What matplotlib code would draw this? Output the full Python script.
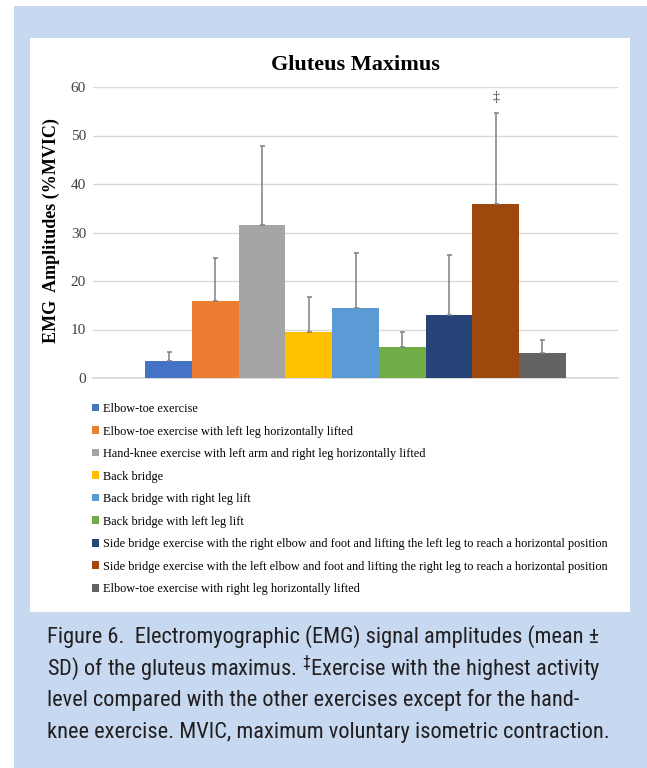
# Gluteus maximus EMG chart (figure 6 style)

import numpy as np
import matplotlib.pyplot as plt
from matplotlib.patches import Rectangle

exercises = [
    'Elbow-toe exercise',
    'Elbow-toe exercise with left leg horizontally lifted',
    'Hand-knee exercise with left arm and right leg horizontally lifted',
    'Back bridge',
    'Back bridge with right leg lift',
    'Back bridge with left leg lift',
    'Side bridge exercise with the right elbow and foot and lifting the left leg to reach a horizontal position',
    'Side bridge exercise with the left elbow and foot and lifting the right leg to reach a horizontal position',
    'Elbow-toe exercise with right leg horizontally lifted',
]
means = [3.6, 15.9, 31.5, 9.5, 14.5, 6.4, 13.0, 35.8, 5.2]
sds = [1.7, 8.8, 16.3, 7.2, 11.2, 3.1, 12.4, 18.8, 2.7]
colors = ['#4472C4', '#ED7D31', '#A5A5A5', '#FFC000', '#5B9BD5',
          '#70AD47', '#264478', '#9E480E', '#636363']
yticks = [0, 10, 20, 30, 40, 50, 60]

serif = ['Liberation Serif', 'DejaVu Serif']
plt.rcParams['font.family'] = serif

W, H = 647, 768
fig = plt.figure(figsize=(W/100, H/100), dpi=100)
fig.patch.set_facecolor('white')

# blue page + white chart panel
fig.patches.append(Rectangle((14/W, 0), 1 - 14/W, (H-6)/H, transform=fig.transFigure,
                             facecolor='#c6d9f1', edgecolor='none', zorder=-2))
fig.patches.append(Rectangle((30/W, (H-612)/H), 600/W, 574/H, transform=fig.transFigure,
                             facecolor='white', edgecolor='none', zorder=-1))

ax = fig.add_axes([93/W, (H-378)/H, 525/W, 291/H])
ax.set_facecolor('none')

x = np.arange(len(means))
bars = ax.bar(x, means, width=1.0, color=colors, zorder=3)
ax.errorbar(x, means, yerr=[np.zeros(len(sds)), sds], fmt='none', ecolor='#808080',
            elinewidth=1.1, capsize=1.8, capthick=1.1, zorder=4)
ax.text(x[7], means[7] + sds[7] + 3.2, '‡', ha='center', va='center',
        fontsize=10, color='#404040')

ax.set_xlim(-0.5 - 1.12, 8.5 + 1.12)
ax.set_ylim(0, 60)
ax.set_yticks(yticks)
ax.set_xticks([])
ax.grid(axis='y', color='#d9d9d9', lw=1, zorder=0)
for s in ['top', 'right', 'left']:
    ax.spines[s].set_visible(False)
ax.spines['bottom'].set_color('#d9d9d9')
ax.spines['bottom'].set_linewidth(1.3)
ax.tick_params(axis='y', length=0, pad=5, labelsize=11, labelcolor='#404040')

fig.text(355/W, 1 - 65/H, 'Gluteus Maximus', ha='center', va='center',
         fontsize=16, fontweight='bold')
fig.text(51/W, 1 - 231/H, 'EMG  Amplitudes (%MVIC)', rotation=90, ha='center',
         va='center', fontsize=13, fontweight='bold')

fig.legend(bars, exercises, loc='upper left', bbox_to_anchor=(92/W, 1 - 403/H),
           frameon=False, borderpad=0, borderaxespad=0, handlelength=0.57,
           handleheight=0.57, handletextpad=0.3, labelspacing=0.86,
           prop={'size': 8.8})

# caption
cond = ['Roboto Condensed', 'DejaVu Sans']
plt.rcParams['mathtext.fontset'] = 'custom'
plt.rcParams['mathtext.rm'] = 'Roboto Condensed'
cap = ['Figure 6.  Electromyographic (EMG) signal amplitudes (mean \u00b1',
       'SD) of the gluteus maximus. $^{\u2021}$Exercise with the highest activity',
       'level compared with the other exercises except for the hand-',
       'knee exercise. MVIC, maximum voluntary isometric contraction.']
for i, line in enumerate(cap):
    fig.text(47/W, 1 - (643 + 31.7*i)/H, line, ha='left', va='baseline', fontsize=16.1,
             family=cond, color='#231f20')

fig.savefig('out.png', dpi=100)
